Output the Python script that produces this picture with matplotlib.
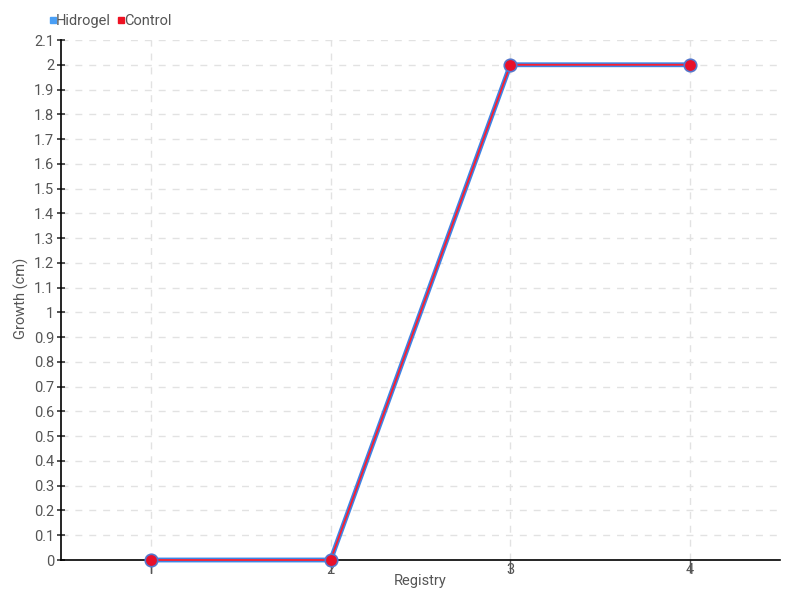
import matplotlib
matplotlib.use("Agg")
import matplotlib.pyplot as plt
from matplotlib.ticker import FuncFormatter, MultipleLocator
from matplotlib.lines import Line2D

registry = [1, 2, 3, 4]
hidrogel = [0, 0, 2, 2]
control = [0, 0, 2, 2]
series_names = ["Hidrogel", "Control"]

plt.rcParams['font.family'] = ['Roboto', 'DejaVu Sans']
txt = '#555555'
fs = 10.5

fig = plt.figure(figsize=(8, 6), dpi=100)
ax = fig.add_axes([61/800, 40/600, (780-61)/800, (560-40)/600])

ax.plot(registry, hidrogel, color='#3d85e6', lw=3.5, zorder=3, solid_capstyle='butt', clip_on=False)
ax.plot(registry, control, color='#ff1e2d', lw=1.3, zorder=4, clip_on=False)
ax.plot(registry, control, ls='none', marker='o', ms=9, mfc='#e8102a',
        mec='#5577cc', mew=1.2, zorder=5, clip_on=False)

ax.set_xlim(0.5, 4.5)
ax.set_ylim(0, 2.1)
ax.xaxis.set_major_locator(MultipleLocator(1))
ax.yaxis.set_major_locator(MultipleLocator(0.1))
ax.yaxis.set_major_formatter(FuncFormatter(lambda v, p: f"{round(v, 1):g}"))
ax.xaxis.set_major_formatter(FuncFormatter(lambda v, p: f"{int(round(v))}"))

for s in ['top', 'right']:
    ax.spines[s].set_visible(False)
for s in ['left', 'bottom']:
    ax.spines[s].set_color('black')
    ax.spines[s].set_linewidth(1.2)

ax.tick_params(axis='y', direction='inout', length=6, width=1.2, colors='#333333',
               labelcolor=txt, labelsize=fs, pad=2)
ax.tick_params(axis='x', direction='out', length=9, width=1, colors='#555555',
               labelcolor=txt, labelsize=fs, pad=-7)

ax.grid(True, ls=(0, (5, 5)), color='#e2e2e2', lw=1)
ax.set_axisbelow(True)

ax.set_xlabel("Registry", color=txt, fontsize=fs)
ax.set_ylabel("Growth (cm)", color=txt, fontsize=fs)
ax.xaxis.set_label_coords(0.5, -21/520)
ax.yaxis.set_label_coords(-40/719, 0.504)
ax.xaxis.label.set_va('center')
ax.yaxis.label.set_va('center')

handles = [Line2D([], [], ls='none', marker='s', ms=4.5, color='#4a9ff5'),
           Line2D([], [], ls='none', marker='s', ms=4.5, color='#ee1122')]
fig.legend(handles, series_names, loc='upper left', bbox_to_anchor=(46/800, 1 - 14/600),
           ncol=2, frameon=False, fontsize=fs, handletextpad=-0.3, columnspacing=0.2,
           handlelength=1.0, labelcolor=txt, borderaxespad=0, borderpad=0)

fig.savefig("out.png", dpi=100)
